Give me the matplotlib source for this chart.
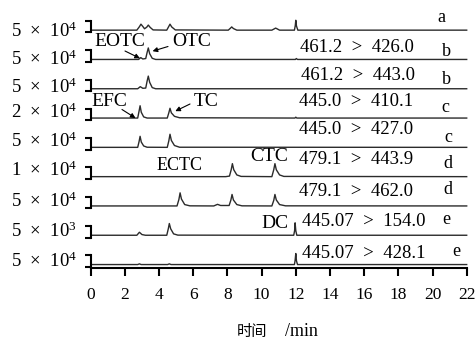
import matplotlib
matplotlib.use('Agg')
import matplotlib.pyplot as plt

plt.rcParams['font.family'] = ['Liberation Serif', 'Noto Sans CJK SC']
plt.rcParams['mathtext.fontset'] = 'custom'
plt.rcParams['mathtext.rm'] = 'Liberation Serif'
plt.rcParams['mathtext.it'] = 'Liberation Serif:italic'

# ---------------- data ----------------
x_ticks = [0, 2, 4, 6, 8, 10, 12, 14, 16, 18, 20, 22]
scale_values = [5e4, 5e4, 5e4, 2e4, 5e4, 1e4, 5e4, 5e3, 5e4]
scale_labels = ["5  ×  10$^{4}$", "5  ×  10$^{4}$", "5  ×  10$^{4}$", "2  ×  10$^{4}$",
                "5  ×  10$^{4}$", "1  ×  10$^{4}$", "5  ×  10$^{4}$", "5  ×  10$^{3}$",
                "5  ×  10$^{4}$"]
transitions = ["", "461.2  >  426.0", "461.2  >  443.0", "445.0  >  410.1", "445.0  >  427.0",
               "479.1  >  443.9", "479.1  >  462.0", "445.07  >  154.0", "445.07  >  428.1"]
panel_letters = ["a", "b", "b", "c", "c", "d", "d", "e", "e"]

trace_a_t = [0, 2.7, 2.85, 2.94, 3.05, 3.15, 3.28, 3.37, 3.48, 3.65, 4.45, 4.56, 4.64, 4.74,
             4.95, 8.05, 8.17, 8.25, 8.35, 8.55, 10.6, 10.75, 10.82, 10.9, 11.05, 11.92, 11.97,
             12.0, 12.04, 12.12, 22]
trace_a_y = [1e4, 1e4, 2.5e4, 3.6e4, 2.6e4, 1.6e4, 2.3e4, 3.2e4, 2.2e4, 1.1e4, 1e4, 2.5e4,
             3.6e4, 2.4e4, 1.1e4, 1e4, 1.8e4, 2.4e4, 1.7e4, 1.0e4, 1e4, 1.6e4, 1.9e4, 1.6e4,
             1e4, 1e4, 3e4, 5.3e4, 2.8e4, 1e4, 1e4]

trace_b1_t = [0, 2.8, 2.93, 3.05, 3.22, 3.3, 3.37, 3.45, 3.6, 3.8, 11.98, 12.03, 12.1, 22]
trace_b1_y = [1e4, 1e4, 1.8e4, 1.2e4, 1.4e4, 4e4, 6e4, 3.5e4, 1.5e4, 1e4, 1e4, 1.4e4, 1e4, 1e4]

trace_b2_t = [0, 2.75, 2.9, 3.05, 3.22, 3.3, 3.37, 3.45, 3.6, 3.8, 22]
trace_b2_y = [1e4, 1e4, 1.9e4, 1.2e4, 1.3e4, 4.3e4, 6.5e4, 3.8e4, 1.5e4, 1e4, 1e4]

trace_c1_t = [0, 2.75, 2.83, 2.89, 2.96, 3.1, 3.3, 4.48, 4.57, 4.64, 4.72, 4.9, 5.2, 11.95,
              12.0, 12.06, 22]
trace_c1_y = [4e3, 4e3, 1.6e4, 2.54e4, 1.4e4, 6e3, 4e3, 4e3, 1.3e4, 2.1e4, 1.3e4, 7e3, 4.5e3,
              4e3, 5.5e3, 4e3, 4e3]

trace_c2_t = [0, 2.75, 2.83, 2.89, 2.96, 3.1, 3.3, 4.48, 4.57, 4.64, 4.72, 4.9, 5.2, 22]
trace_c2_y = [1e4, 1e4, 3.5e4, 5.8e4, 3.3e4, 1.6e4, 1.05e4, 1e4, 3.8e4, 6.7e4, 4e4, 1.8e4,
              1.05e4, 1e4]

trace_d1_t = [0, 7.9, 8.12, 8.22, 8.29, 8.37, 8.55, 8.8, 10.6, 10.71, 10.78, 10.86, 11.05,
              11.3, 22]
trace_d1_y = [2e3, 2e3, 2.5e3, 8e3, 1.33e4, 8e3, 3.5e3, 2.2e3, 2e3, 8e3, 1.33e4, 8e3, 3.5e3,
              2.2e3, 2e3]

trace_d2_t = [0, 5.05, 5.16, 5.23, 5.31, 5.5, 5.8, 7.2, 7.42, 7.6, 8.1, 8.2, 8.27, 8.35, 8.55,
              8.85, 10.6, 10.71, 10.78, 10.86, 11.05, 11.4, 22]
trace_d2_y = [1e4, 1e4, 3.8e4, 6.7e4, 4e4, 1.6e4, 1.05e4, 1e4, 1.7e4, 1.2e4, 1.2e4, 3.5e4,
              6e4, 3.6e4, 1.6e4, 1.05e4, 1e4, 3.4e4, 6e4, 3.6e4, 1.6e4, 1.05e4, 1e4]

trace_e1_t = [0, 2.7, 2.85, 3.0, 3.2, 4.45, 4.54, 4.6, 4.68, 4.85, 5.1, 11.88, 11.93, 11.96,
              12.0, 12.06, 22]
trace_e1_y = [1e3, 1e3, 2.3e3, 1.3e3, 1e3, 1e3, 3.8e3, 6.1e3, 3.8e3, 1.6e3, 1.05e3, 1e3, 3e3,
              6.4e3, 3e3, 1e3, 1e3]

trace_e2_t = [0, 2.75, 2.85, 2.95, 4.5, 4.6, 4.7, 11.92, 11.96, 12.0, 12.04, 12.1, 22]
trace_e2_y = [1e4, 1e4, 1.3e4, 1e4, 1e4, 1.3e4, 1e4, 1e4, 2.8e4, 5.8e4, 2.6e4, 1e4, 1e4]

traces_t = [trace_a_t, trace_b1_t, trace_b2_t, trace_c1_t, trace_c2_t,
            trace_d1_t, trace_d2_t, trace_e1_t, trace_e2_t]
traces_y = [trace_a_y, trace_b1_y, trace_b2_y, trace_c1_y, trace_c2_y,
            trace_d1_y, trace_d2_y, trace_e1_y, trace_e2_y]

# ---------------- layout ----------------
W, H, DPI = 477, 340, 100
x0, x1 = 90.7, 466.7
y_axis = 268.0
band = 29.3
px_per_scale = 11.5

fig = plt.figure(figsize=(W / DPI, H / DPI), dpi=DPI)

n = len(traces_t)
axes = []
for i in range(n):
    s = scale_values[i]
    yb = y_axis - (n - 1 - i) * band
    ax = fig.add_axes([x0 / W, 1 - yb / H, (x1 - x0) / W, band / H])
    ax.patch.set_alpha(0)
    ax.plot(traces_t[i], traces_y[i], color='#2b2b2b', lw=1.0, clip_on=False)
    ax.set_xlim(0, 22)
    ax.set_ylim(-0.1 * s, (band / px_per_scale - 0.1) * s)
    for sp in ['top', 'right']:
        ax.spines[sp].set_visible(False)
    ax.spines['left'].set_bounds(0, s)
    ax.spines['left'].set_linewidth(1.5)
    ax.set_yticks([0, s])
    ax.set_yticklabels([])
    ax.tick_params(axis='y', length=4.3, width=1.5, direction='out')
    if i < n - 1:
        ax.spines['bottom'].set_visible(False)
        ax.set_xticks([])
    else:
        ax.spines['bottom'].set_linewidth(1.5)
        ax.set_xticks(x_ticks)
        ax.set_xticklabels([str(v) for v in x_ticks], fontsize=12.5)
        ax.tick_params(axis='x', length=6, width=1.5, direction='out', pad=7.5)
    axes.append(ax)


def fp(x, y):
    return (x / W, 1 - y / H)


# scale labels (left)
label_y = [31.3, 59.5, 87, 112.7, 141, 170.5, 201, 231, 261]
for lab, ly in zip(scale_labels, label_y):
    fig.text(*fp(77, ly), lab, ha='right', va='center', fontsize=13.5)

# transitions
trans_pos = [None, (300, 47), (301, 75), (299, 101), (299, 130), (299.3, 160),
             (299.3, 191.7), (301.7, 221.7), (301.7, 253.3)]
for lab, pos in zip(transitions, trans_pos):
    if pos is None:
        continue
    fig.text(*fp(*pos), lab, ha='left', va='center', fontsize=13.5)

# panel letters
letter_pos = [(441.7, 17), (446.7, 52), (446.7, 80), (445, 108), (448, 137),
              (448, 163), (448, 190), (446.7, 220), (456.7, 251)]
for lab, pos in zip(panel_letters, letter_pos):
    fig.text(*fp(*pos), lab, ha='center', va='center', fontsize=13)

# compound names
names = [("EOTC", 120, 42, 14), ("OTC", 192, 42, 14), ("EFC", 109.5, 101.7, 14),
         ("TC", 206.5, 101, 14), ("ECTC", 179.5, 166, 13), ("CTC", 269, 156.7, 14),
         ("DC", 274.5, 224, 14)]
for txt, x, y, fs in names:
    fig.text(*fp(x, y), txt, ha='center', va='center', fontsize=fs)

# arrows: (axis index, tip in data, tail in figure px from top)
arrows = [(1, (2.88, 1.5e4), (125, 51)), (1, (3.62, 4.6e4), (168, 46.5)),
          (3, (2.62, 4e3), (122, 109.5)), (3, (4.95, 1.6e4), (190, 104))]
for idx, tip, tail in arrows:
    axes[idx].annotate('', xy=tip, xycoords='data',
                       xytext=(tail[0], H - tail[1]), textcoords='figure pixels',
                       arrowprops=dict(arrowstyle='-|>', color='black', lw=0.8,
                                       mutation_scale=7, shrinkA=0, shrinkB=0),
                       annotation_clip=False)

# x label
fig.text(*fp(267, 331.7), "时间", ha='right', va='center', fontsize=11,
         family=['Noto Sans CJK SC'])
fig.text(*fp(285, 331.7), "/min", ha='left', va='center', fontsize=13)

fig.savefig('out.png', dpi=DPI)
